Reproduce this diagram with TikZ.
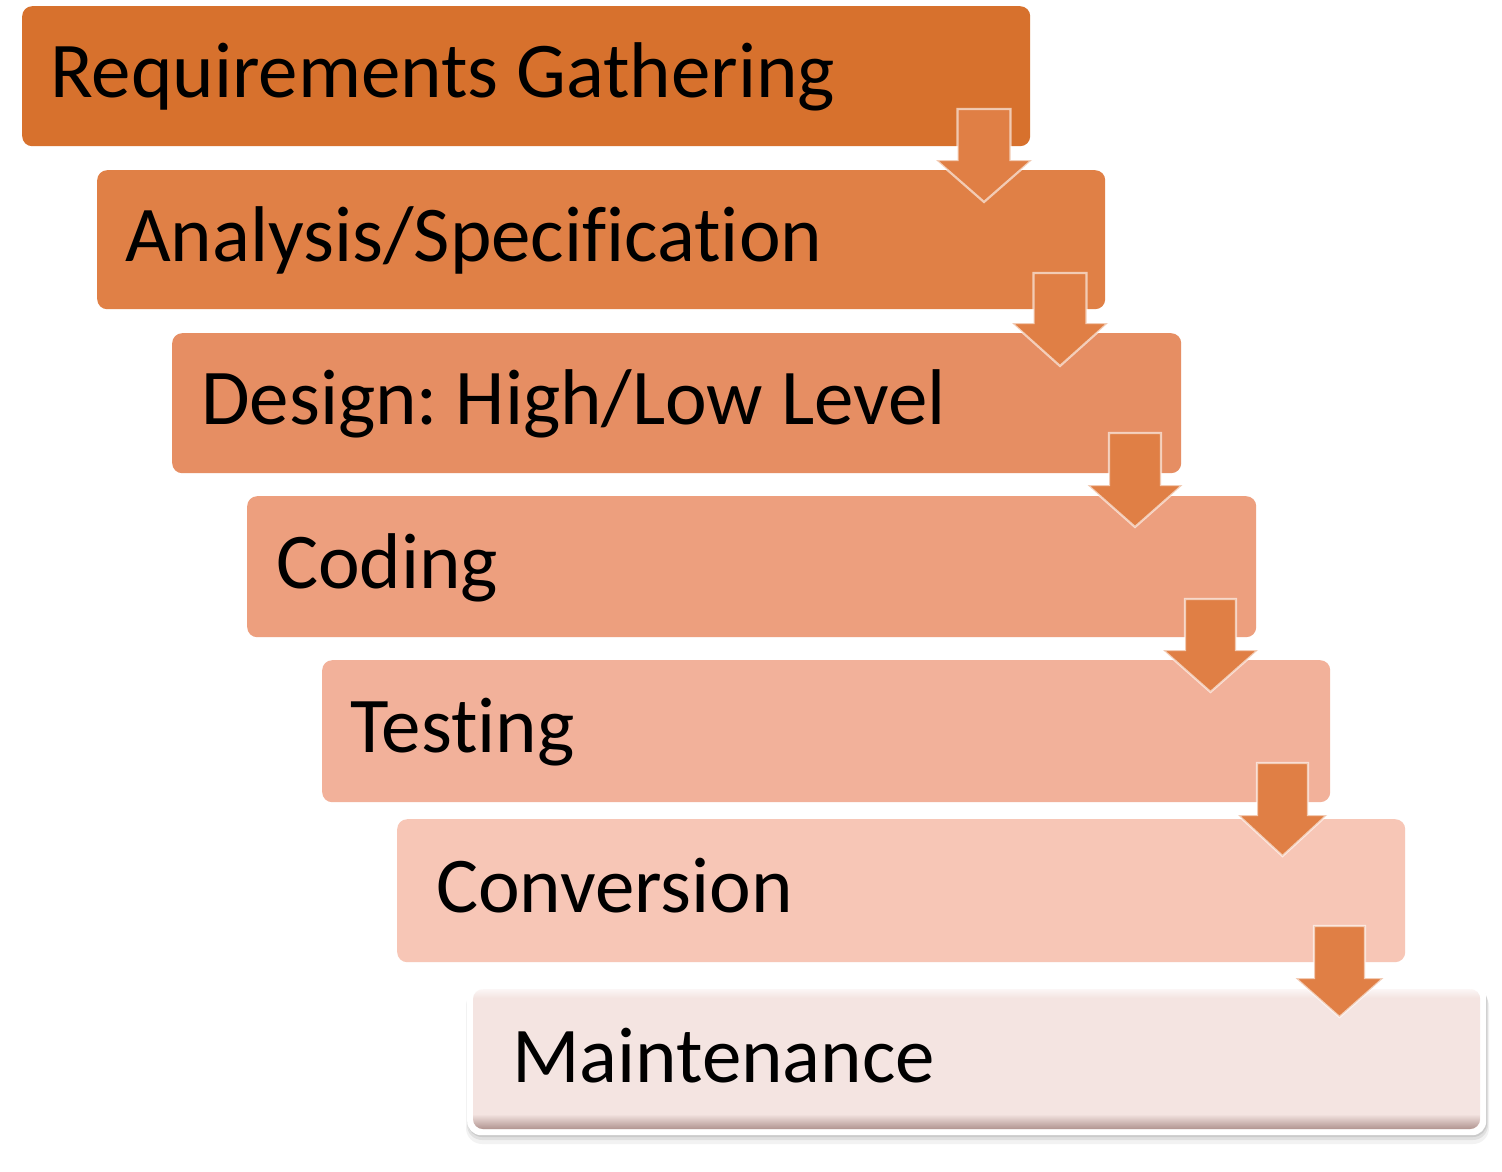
\documentclass[tikz,border=0pt]{standalone}
\usepackage{fontspec}
\setmainfont{Carlito}[Ligatures={NoCommon}]
\usetikzlibrary{calc}
\definecolor{c1}{RGB}{215,113,45}
\definecolor{c2}{RGB}{224,128,70}
\definecolor{c3}{RGB}{230,142,99}
\definecolor{c4}{RGB}{237,159,126}
\definecolor{c5}{RGB}{242,177,154}
\definecolor{c6}{RGB}{247,198,182}
\definecolor{c7}{RGB}{244,228,225}
\definecolor{arrowc}{RGB}{224,127,69}
\definecolor{bevel}{RGB}{176,148,144}
\tikzset{
  stepbox/.style={rounded corners=10pt, draw=none, inner sep=0pt, anchor=north west},
  steptext/.style={anchor=base west, inner sep=0pt, font=\fontsize{79}{94}\selectfont, text=black},
  blockarrow/.style={fill=arrowc, draw=white, draw opacity=0.6, line width=2.2pt, line join=miter},
}
% #1 center x, #2 top y, #3 shaft half width, #4 head half width, #5 shaft length, #6 total height
\newcommand{\blockarr}[6]{%
  \path[blockarrow] (#1-#3,#2) -- (#1+#3,#2) -- (#1+#3,#2+#5) -- (#1+#4,#2+#5)
    -- (#1,#2+#6) -- (#1-#4,#2+#5) -- (#1-#3,#2+#5) -- cycle;}
\frenchspacing
\begin{document}
\begin{tikzpicture}[x=1pt,y=-1pt]
\useasboundingbox[fill=white] (0,0) rectangle (1502,1172);
% boxes
\node[stepbox, fill=c1, minimum width=1008pt, minimum height=140pt] (b1) at (22,6) {};
\node[stepbox, fill=c2, minimum width=1008pt, minimum height=139pt] (b2) at (97,170) {};
\node[stepbox, fill=c3, minimum width=1009pt, minimum height=140pt] (b3) at (172,333) {};
\node[stepbox, fill=c4, minimum width=1009pt, minimum height=141pt] (b4) at (247,496) {};
\node[stepbox, fill=c5, minimum width=1008pt, minimum height=142pt] (b5) at (322,660) {};
\node[stepbox, fill=c6, minimum width=1008pt, minimum height=143pt] (b6) at (397,819) {};
% maintenance box: shadow, white frame, bevelled face
\fill[black, opacity=0.05, rounded corners=16pt] (466,990) rectangle (1489,1144);
\fill[black, opacity=0.07, rounded corners=15pt] (467,988) rectangle (1488,1140);
\fill[black, opacity=0.09, rounded corners=14pt] (468,986) rectangle (1487,1137);
\node[stepbox, fill=white, rounded corners=14pt, minimum width=1019pt, minimum height=152pt] (b7f) at (467,983) {};
\node[stepbox, fill=c7, minimum width=1007pt, minimum height=140pt] (b7) at (473,989) {};
\begin{scope}
  \clip[rounded corners=10pt] (473,989) rectangle (1480,1129);
  \shade[top color=c7, bottom color=bevel] (473,1114) rectangle (1480,1129);
  \shade[top color=white, bottom color=c7, opacity=0.7] (473,989) rectangle (1480,998);
\end{scope}
% texts
\node[steptext] (t1) at (50,97) {Requirements Gathering};
\node[steptext] (t2) at (125,261) {Analysis/Specification};
\node[steptext] (t3) at (201,424) {Design: High/Low Level};
\node[steptext] (t4) at (276,588) {Coding};
\node[steptext] (t5) at (350,752) {Testing};
\node[steptext] (t6) at (436,912) {Conversion};
\node[steptext] (t7) at (512,1082) {Maintenance};
% arrows
\blockarr{984}{109}{26.5}{48}{51}{93}
\blockarr{1060}{273}{26.5}{48}{50}{93}
\blockarr{1135}{433}{26}{47.5}{52}{94}
\blockarr{1210.5}{599}{25.5}{47.5}{51}{93}
\blockarr{1282.5}{763}{25.5}{44.5}{52}{93}
\blockarr{1339.5}{926}{25.5}{44}{52}{91}
\end{tikzpicture}
\end{document}
